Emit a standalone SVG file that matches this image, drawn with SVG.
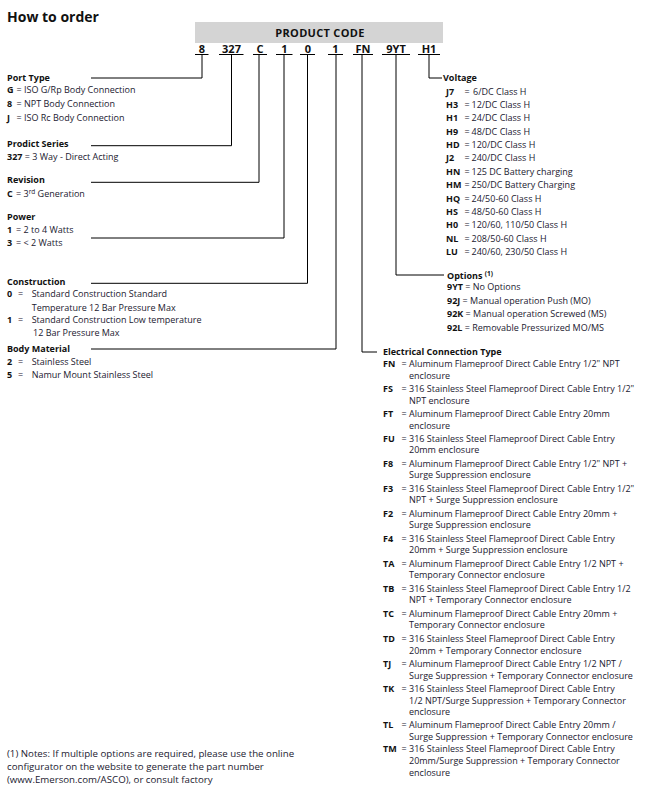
<svg xmlns="http://www.w3.org/2000/svg" width="645" height="787" viewBox="0 0 645 787">
<style>
text{font-family:"Open Sans","Noto Sans","Liberation Sans",sans-serif;font-size:9px;fill:#1b2030}
.b{font-weight:bold;fill:#111}
.h{font-weight:bold;fill:#111}
.pc{font-size:11px;font-weight:bold;fill:#111;text-anchor:middle;letter-spacing:0.3px}
.title{font-size:14px;font-weight:bold;fill:#111}
.code{font-size:11px;font-weight:bold;fill:#111;text-anchor:middle}
.sup{font-size:6.5px}
.note{font-size:9.7px}
.ln{fill:none;stroke:#000;stroke-width:1}
</style>
<rect width="645" height="787" fill="#fff"/>
<text class="title" x="7" y="21.5">How to order</text>
<g id="product-code">
<rect x="195" y="22" width="248" height="21" fill="#d4d4d4"/>
<text class="pc" x="320" y="36.5">PRODUCT CODE</text>
<text class="code" x="202" y="52.5">8</text>
<text class="code" x="231.5" y="52.5">327</text>
<text class="code" x="260" y="52.5">C</text>
<text class="code" x="284.5" y="52.5">1</text>
<text class="code" x="308" y="52.5">0</text>
<text class="code" x="335.5" y="52.5">1</text>
<text class="code" x="363" y="52.5">FN</text>
<text class="code" x="396" y="52.5">9YT</text>
<text class="code" x="429" y="52.5">H1</text>
<path class="ln" d="M195 54.5H208.5M219 54.5H243.5M253 54.5H267M276 54.5H292.5M300 54.5H315M328 54.5H343M353 54.5H373M382 54.5H410M418 54.5H440"/>
</g>
<g id="connectors">
<path class="ln" d="M91 78H202V55"/>
<path class="ln" d="M91 145.7H231.5V55"/>
<path class="ln" d="M91 182.3H259V55"/>
<path class="ln" d="M91 238H284V55"/>
<path class="ln" d="M91 283.3H307.5V55"/>
<path class="ln" d="M91 349H336V55"/>
<path class="ln" d="M362 55V352H377"/>
<path class="ln" d="M396 55V275H444"/>
<path class="ln" d="M429 55V78H442"/>
</g>
<g id="port-type">
<text class="h" x="7" y="81.2">Port Type</text>
<text class="b" x="7" y="93.3">G</text><text x="16.5" y="93.3">= ISO G/Rp Body Connection</text>
<text class="b" x="7" y="106.5">8</text><text x="16.5" y="106.5">= NPT Body Connection</text>
<text class="b" x="7" y="120.5">J</text><text x="16.5" y="120.5">= ISO Rc Body Connection</text>
</g>
<g id="product-series">
<text class="h" x="7" y="147.2">Prodict Series</text>
<text x="7" y="160"><tspan class="b">327</tspan> = 3 Way - Direct Acting</text>
</g>
<g id="revision">
<text class="h" x="7" y="183.2">Revision</text>
<text class="b" x="7" y="196.5">C</text><text x="16" y="196.5">= 3<tspan class="sup" dy="-3">rd</tspan><tspan dy="3"> Generation</tspan></text>
</g>
<g id="power">
<text class="h" x="7" y="220">Power</text>
<text class="b" x="7" y="232.5">1</text><text x="16" y="232.5">= 2 to 4 Watts</text>
<text class="b" x="7" y="245.5">3</text><text x="16" y="245.5">= &lt; 2 Watts</text>
</g>
<g id="construction">
<text class="h" x="7" y="285">Construction</text>
<text class="b" x="7" y="297.2">0</text><text x="18" y="297.2">=</text><text x="31.7" y="297.2">Standard Construction Standard</text>
<text x="31.7" y="310.5">Temperature 12 Bar Pressure Max</text>
<text class="b" x="7" y="323.2">1</text><text x="18" y="323.2">=</text><text x="31.7" y="323.2">Standard Construction Low temperature</text>
<text x="33" y="336">12 Bar Pressure Max</text>
</g>
<g id="body-material">
<text class="h" x="7" y="352.2">Body Material</text>
<text class="b" x="7" y="365">2</text><text x="18" y="365">=</text><text x="31.7" y="365">Stainless Steel</text>
<text class="b" x="7" y="377.5">5</text><text x="18" y="377.5">=</text><text x="31.7" y="377.5">Namur Mount Stainless Steel</text>
</g>
<g id="voltage">
<text class="h" x="443" y="81">Voltage</text>
<text class="b" x="446" y="94.7">J7</text><text x="464.5" y="94.7">=</text><text x="473" y="94.7">6/DC Class H</text>
<text class="b" x="446" y="108">H3</text><text x="464.5" y="108">=</text><text x="471.5" y="108">12/DC Class H</text>
<text class="b" x="446" y="121.4">H1</text><text x="464.5" y="121.4">=</text><text x="471.5" y="121.4">24/DC Class H</text>
<text class="b" x="446" y="134.7">H9</text><text x="464.5" y="134.7">=</text><text x="471.5" y="134.7">48/DC Class H</text>
<text class="b" x="446" y="148.1">HD</text><text x="464.5" y="148.1">=</text><text x="471.5" y="148.1">120/DC Class H</text>
<text class="b" x="446" y="161.4">J2</text><text x="464.5" y="161.4">=</text><text x="471.5" y="161.4">240/DC Class H</text>
<text class="b" x="446" y="174.8">HN</text><text x="464.5" y="174.8">=</text><text x="471.5" y="174.8">125 DC Battery charging</text>
<text class="b" x="446" y="188.1">HM</text><text x="464.5" y="188.1">=</text><text x="471.5" y="188.1">250/DC Battery Charging</text>
<text class="b" x="446" y="201.5">HQ</text><text x="464.5" y="201.5">=</text><text x="471.5" y="201.5">24/50-60 Class H</text>
<text class="b" x="446" y="214.8">HS</text><text x="464.5" y="214.8">=</text><text x="471.5" y="214.8">48/50-60 Class H</text>
<text class="b" x="446" y="228.2">H0</text><text x="464.5" y="228.2">=</text><text x="471.5" y="228.2">120/60, 110/50 Class H</text>
<text class="b" x="446" y="241.5">NL</text><text x="464.5" y="241.5">=</text><text x="471.5" y="241.5">208/50-60 Class H</text>
<text class="b" x="446" y="254.9">LU</text><text x="464.5" y="254.9">=</text><text x="471.5" y="254.9">240/60, 230/50 Class H</text>
</g>
<g id="options">
<text class="h" x="447" y="278.5">Options <tspan class="sup" dy="-2.5">(1)</tspan></text>
<text x="447" y="290"><tspan class="b">9YT</tspan> = No Options</text>
<text x="447" y="304"><tspan class="b">92J</tspan>  = Manual operation Push (MO)</text>
<text x="447" y="316.5"><tspan class="b">92K</tspan> = Manual operation Screwed (MS)</text>
<text x="447" y="331"><tspan class="b">92L</tspan> = Removable Pressurized MO/MS</text>
</g>
<g id="electrical-connection">
<text class="h" x="383" y="354.5">Electrical Connection Type</text>
<text class="b" x="383" y="367.2">FN</text><text x="401.5" y="367.2">=</text><text x="409" y="367.2">Aluminum  Flameproof Direct Cable Entry 1/2" NPT</text>
<text x="409" y="378.8">enclosure</text>
<text class="b" x="383" y="392.2">FS</text><text x="401.5" y="392.2">=</text><text x="409" y="392.2">316 Stainless Steel Flameproof Direct Cable Entry 1/2"</text>
<text x="409" y="403.8">NPT enclosure</text>
<text class="b" x="383" y="416.7">FT</text><text x="401.5" y="416.7">=</text><text x="409" y="416.7">Aluminum Flameproof Direct Cable Entry 20mm</text>
<text x="409" y="428.5">enclosure</text>
<text class="b" x="383" y="441.5">FU</text><text x="401.5" y="441.5">=</text><text x="409" y="441.5">316 Stainless Steel Flameproof Direct Cable Entry</text>
<text x="409" y="453.3">20mm enclosure</text>
<text class="b" x="383" y="466.5">F8</text><text x="401.5" y="466.5">=</text><text x="409" y="466.5">Aluminum Flameproof Direct Cable Entry 1/2" NPT +</text>
<text x="409" y="478.3">Surge Suppression enclosure</text>
<text class="b" x="383" y="491.5">F3</text><text x="401.5" y="491.5">=</text><text x="409" y="491.5">316 Stainless Steel Flameproof Direct Cable Entry 1/2"</text>
<text x="409" y="503.3">NPT + Surge Suppression enclosure</text>
<text class="b" x="383" y="516.5">F2</text><text x="401.5" y="516.5">=</text><text x="409" y="516.5">Aluminum Flameproof Direct Cable Entry 20mm +</text>
<text x="409" y="528.3">Surge Suppression enclosure</text>
<text class="b" x="383" y="541.5">F4</text><text x="401.5" y="541.5">=</text><text x="409" y="541.5">316 Stainless Steel Flameproof Direct Cable Entry</text>
<text x="409" y="553.3">20mm + Surge Suppression enclosure</text>
<text class="b" x="383" y="566.5">TA</text><text x="401.5" y="566.5">=</text><text x="409" y="566.5">Aluminum Flameproof Direct Cable Entry 1/2 NPT +</text>
<text x="409" y="578.3">Temporary Connector enclosure</text>
<text class="b" x="383" y="591.5">TB</text><text x="401.5" y="591.5">=</text><text x="409" y="591.5">316 Stainless Steel Flameproof Direct Cable Entry 1/2</text>
<text x="409" y="603.3">NPT + Temporary Connector enclosure</text>
<text class="b" x="383" y="616.5">TC</text><text x="401.5" y="616.5">=</text><text x="409" y="616.5">Aluminum Flameproof Direct Cable Entry 20mm +</text>
<text x="409" y="628.3">Temporary Connector enclosure</text>
<text class="b" x="383" y="641.7">TD</text><text x="401.5" y="641.7">=</text><text x="409" y="641.7">316 Stainless Steel Flameproof Direct Cable Entry</text>
<text x="409" y="653.5">20mm + Temporary Connector enclosure</text>
<text class="b" x="383" y="666.7">TJ</text><text x="401.5" y="666.7">=</text><text x="409" y="666.7">Aluminum Flameproof Direct Cable Entry 1/2 NPT /</text>
<text x="409" y="678.5">Surge Suppression + Temporary Connector enclosure</text>
<text class="b" x="383" y="691.7">TK</text><text x="401.5" y="691.7">=</text><text x="409" y="691.7">316 Stainless Steel Flameproof Direct Cable Entry</text>
<text x="409" y="703.5">1/2 NPT/Surge Suppression + Temporary Connector</text>
<text x="409" y="715.2">enclosure</text>
<text class="b" x="383" y="727.7">TL</text><text x="401.5" y="727.7">=</text><text x="409" y="727.7">Aluminum Flameproof Direct Cable Entry 20mm /</text>
<text x="409" y="739.5">Surge Suppression + Temporary Connector enclosure</text>
<text class="b" x="383" y="752.2">TM</text><text x="401.5" y="752.2">=</text><text x="409" y="752.2">316 Stainless Steel Flameproof Direct Cable Entry</text>
<text x="409" y="764">20mm/Surge Suppression + Temporary Connector</text>
<text x="409" y="775.7">enclosure</text>
</g>
<g id="notes">
<text class="note" x="7" y="757.2">(1) Notes: If multiple options are required, please use the online</text>
<text class="note" x="7" y="770">configurator on the website to generate the part number</text>
<text class="note" x="7" y="783.2">(www.Emerson.com/ASCO), or consult factory</text>
</g>
</svg>
